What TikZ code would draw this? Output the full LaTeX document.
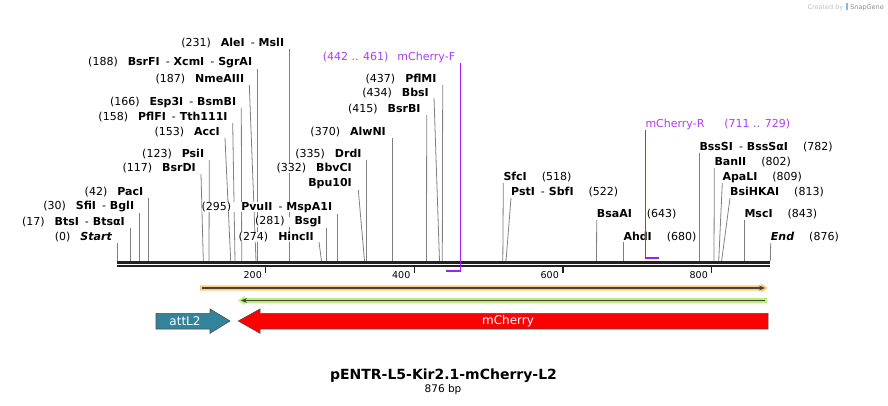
\documentclass[tikz,border=0pt]{standalone}
\usepackage{fontspec}
\setmainfont{DejaVu Sans}
\usetikzlibrary{arrows.meta,positioning,backgrounds}

\definecolor{cutgray}{RGB}{128,128,128}
\definecolor{bbone}{RGB}{34,34,34}
\definecolor{primerline}{RGB}{160,32,240}
\definecolor{primertext}{RGB}{172,64,240}
\definecolor{attteal}{RGB}{49,132,155}
\definecolor{orfred}{RGB}{255,0,0}
\definecolor{barorange}{RGB}{250,204,128}
\definecolor{bargreen}{RGB}{182,240,124}
\definecolor{bardark}{RGB}{72,66,56}
\definecolor{logoblue}{RGB}{120,190,235}

\tikzset{
  lsite/.style={anchor=east, fill=white},
  rsite/.style={anchor=west, fill=white},
  cut/.style={draw=cutgray, line width=0.8pt},
  primer/.style={draw=primerline, line width=1.6pt},
  plabel/.style={text=primertext},
}

\begin{document}
\begin{tikzpicture}[x=1pt, y=-1pt, every node/.style={font=\fontsize{11}{13}\selectfont, inner sep=0pt}]
  \useasboundingbox (0,0) rectangle (888,406);

  % backbone
  \draw[bbone, line width=2.4pt] (117,262.3) -- (770,262.3);
  \draw[bbone, line width=2.4pt] (117,266) -- (770,266);

  % ruler
  \node[anchor=east, font=\fontsize{9.5}{11}\selectfont] (t200) at (262,275) {200};
  \node[anchor=east, font=\fontsize{9.5}{11}\selectfont] (t400) at (410.5,275) {400};
  \node[anchor=east, font=\fontsize{9.5}{11}\selectfont] (t600) at (559,275) {600};
  \node[anchor=east, font=\fontsize{9.5}{11}\selectfont] (t800) at (708,275) {800};
  \draw[bbone, line width=1.5pt] (265.7,266) -- (265.7,273);
  \draw[bbone, line width=1.5pt] (414.3,266) -- (414.3,273);
  \draw[bbone, line width=1.5pt] (563,266) -- (563,273);
  \draw[bbone, line width=1.5pt] (711.7,266) -- (711.7,273);

  % sites on the backbone
  \coordinate (s0) at (117.3,261);
  \coordinate (s17) at (130,261);
  \coordinate (s30) at (139.3,261);
  \coordinate (s42) at (148.3,261);
  \coordinate (s117) at (203.3,261);
  \coordinate (s123) at (209,261);
  \coordinate (s153) at (230.7,261);
  \coordinate (s158) at (235,261);
  \coordinate (s166) at (241.7,261);
  \coordinate (s187) at (256,261);
  \coordinate (s188) at (257.3,261);
  \coordinate (s231) at (289.3,261);
  \coordinate (s274) at (321.5,261);
  \coordinate (s281) at (326.7,261);
  \coordinate (s295) at (337.3,261);
  \coordinate (s332) at (364.5,261);
  \coordinate (s335) at (366.7,261);
  \coordinate (s370) at (392.7,261);
  \coordinate (s415) at (426.5,261);
  \coordinate (s434) at (439.5,261);
  \coordinate (s437) at (442.3,261);
  \coordinate (s518) at (502.8,261);
  \coordinate (s522) at (506,261);
  \coordinate (s643) at (596.5,261);
  \coordinate (s680) at (623.3,261);
  \coordinate (s782) at (699.3,261);
  \coordinate (s802) at (714,261);
  \coordinate (s809) at (718.7,261);
  \coordinate (s813) at (721.6,261);
  \coordinate (s843) at (744.3,261);
  \coordinate (s876) at (770.3,261);

  % enzymes, left of their cut
  \node[lsite] (start) at (112.3,237) {(0)\hspace{10pt}\textbf{\textit{Start}}};
  \node[lsite] (btsI) at (125,222) {(17)\hspace{10pt}\textbf{BtsI}\hspace{6pt}-\hspace{4pt}\textbf{BtsαI}};
  \node[lsite] (sfiI) at (134.3,207) {(30)\hspace{10pt}\textbf{SfiI}\hspace{6pt}-\hspace{4pt}\textbf{BglI}};
  \node[lsite] (pacI) at (143.3,192) {(42)\hspace{10pt}\textbf{PacI}};
  \node[lsite] (bsrDI) at (196,168) {(117)\hspace{10pt}\textbf{BsrDI}};
  \node[lsite] (psiI) at (204.3,154) {(123)\hspace{10pt}\textbf{PsiI}};
  \node[lsite] (accI) at (220,132) {(153)\hspace{10pt}\textbf{AccI}};
  \node[lsite] (pflFI) at (227.7,117) {(158)\hspace{10pt}\textbf{PflFI}\hspace{6pt}-\hspace{4pt}\textbf{Tth111I}};
  \node[lsite] (esp3I) at (236.3,102) {(166)\hspace{10pt}\textbf{Esp3I}\hspace{6pt}-\hspace{4pt}\textbf{BsmBI}};
  \node[lsite] (nmeAIII) at (244.3,79) {(187)\hspace{10pt}\textbf{NmeAIII}};
  \node[lsite] (bsrFI) at (252.3,63) {(188)\hspace{10pt}\textbf{BsrFI}\hspace{6pt}-\hspace{4pt}\textbf{XcmI}\hspace{6pt}-\hspace{4pt}\textbf{SgrAI}};
  \node[lsite] (aleI) at (284.3,43) {(231)\hspace{10pt}\textbf{AleI}\hspace{6pt}-\hspace{4pt}\textbf{MslI}};
  \node[lsite] (hincII) at (314,237) {(274)\hspace{10pt}\textbf{HincII}};
  \node[lsite] (bsgI) at (321.7,222) {(281)\hspace{10pt}\textbf{BsgI}};
  \node[lsite] (pvuII) at (332.3,207) {(295)\hspace{10pt}\textbf{PvuII}\hspace{6pt}-\hspace{4pt}\textbf{MspA1I}};
  \node[lsite] (bbvCI) at (352,168) {(332)\hspace{10pt}\textbf{BbvCI}};
  \node[lsite] (bpu10I) at (352,184) {\textbf{Bpu10I}};
  \node[lsite] (drdI) at (361.7,154) {(335)\hspace{10pt}\textbf{DrdI}};
  \node[lsite] (alwNI) at (386,132) {(370)\hspace{10pt}\textbf{AlwNI}};
  \node[lsite] (bsrBI) at (420.7,109) {(415)\hspace{10pt}\textbf{BsrBI}};
  \node[lsite] (bbsI) at (429,93) {(434)\hspace{10pt}\textbf{BbsI}};
  \node[lsite] (pflMI) at (436.7,79) {(437)\hspace{10pt}\textbf{PflMI}};

  % enzymes, right of their cut
  \node[rsite] (sfcI) at (503.3,177) {\textbf{SfcI}\hspace{15pt}(518)};
  \node[rsite] (pstI) at (511,192) {\textbf{PstI}\hspace{6pt}-\hspace{4pt}\textbf{SbfI}\hspace{15pt}(522)};
  \node[rsite] (bsaAI) at (596.7,214) {\textbf{BsaAI}\hspace{15pt}(643)};
  \node[rsite] (ahdI) at (623.3,237) {\textbf{AhdI}\hspace{15pt}(680)};
  \node[rsite] (bssSI) at (699.3,147) {\textbf{BssSI}\hspace{6pt}-\hspace{4pt}\textbf{BssSαI}\hspace{15pt}(782)};
  \node[rsite] (banII) at (714.3,162) {\textbf{BanII}\hspace{15pt}(802)};
  \node[rsite] (apaLI) at (722.3,177) {\textbf{ApaLI}\hspace{15pt}(809)};
  \node[rsite] (bsiHKAI) at (730,192) {\textbf{BsiHKAI}\hspace{15pt}(813)};
  \node[rsite] (mscI) at (744.3,214) {\textbf{MscI}\hspace{15pt}(843)};
  \node[rsite] (endsite) at (770.7,237) {\textbf{\textit{End}}\hspace{15pt}(876)};

  % cut lines, behind the labels
  \begin{scope}[on background layer]
    \draw[cut] ([shift={(5,6)}]start.east) -- (s0);
    \draw[cut] ([shift={(5,6)}]btsI.east) -- (s17);
    \draw[cut] ([shift={(5,6)}]sfiI.east) -- (s30);
    \draw[cut] ([shift={(5,6)}]pacI.east) -- (s42);
    \draw[cut] ([shift={(5,6)}]bsrDI.east) -- (s117);
    \draw[cut] ([shift={(5,6)}]psiI.east) -- (s123);
    \draw[cut] ([shift={(5,6)}]accI.east) -- (s153);
    \draw[cut] ([shift={(5,6)}]pflFI.east) -- (s158);
    \draw[cut] ([shift={(5,6)}]esp3I.east) -- (s166);
    \draw[cut] ([shift={(5,6)}]nmeAIII.east) -- (s187);
    \draw[cut] ([shift={(5,6)}]bsrFI.east) -- (s188);
    \draw[cut] ([shift={(5,6)}]aleI.east) -- (s231);
    \draw[cut] ([shift={(5,5)}]hincII.east) -- (s274);
    \draw[cut] ([shift={(5,6)}]bsgI.east) -- (s281);
    \draw[cut] ([shift={(5,7)}]pvuII.east) -- (s295);
    \draw[cut] ([shift={(6.3,6)}]bpu10I.east) -- (s332);
    \draw[cut] ([shift={(5,6)}]drdI.east) -- (s335);
    \draw[cut] ([shift={(6.7,6)}]alwNI.east) -- (s370);
    \draw[cut] ([shift={(6,6)}]bsrBI.east) -- (s415);
    \draw[cut] ([shift={(5,5)}]bbsI.east) -- (s434);
    \draw[cut] ([shift={(6,6)}]pflMI.east) -- (s437);

    \draw[cut] ([yshift=-6pt]sfcI.west) -- (s518);
    \draw[cut] ([yshift=-6pt]pstI.west) -- (s522);
    \draw[cut] ([yshift=-6pt]bsaAI.west) -- (s643);
    \draw[cut] ([yshift=-5pt]ahdI.west) -- (s680);
    \draw[cut] ([yshift=-6pt]bssSI.west) -- (s782);
    \draw[cut] ([yshift=-6pt]banII.west) -- (s802);
    \draw[cut] ([yshift=-6pt]apaLI.west) -- (s809);
    \draw[cut] ([yshift=-6pt]bsiHKAI.west) -- (s813);
    \draw[cut] ([yshift=-6pt]mscI.west) -- (s843);
    \draw[cut] ([yshift=-6pt]endsite.west) -- (s876);
  \end{scope}

  % primers
  \node[lsite, plabel] (fwd) at (455.3,57) {(442 .. 461)\hspace{9pt}mCherry-F};
  \coordinate (fwd-a) at (446,270.7);
  \draw[primer] ([shift={(5,6)}]fwd.east) |- (fwd-a);
  \node[rsite, plabel] (rev) at (645.3,124) {mCherry-R\hspace{20pt}(711 .. 729)};
  \coordinate (rev-a) at (659.4,257.7);
  \draw[primer] ([yshift=-6pt]rev.west) |- (rev-a);

  % feature arrows above the map features
  \fill[barorange] (200,285.3) -- (761,285.3) -- (761,283.5) -- (768,288) -- (761,292.5) -- (761,290.7) -- (200,290.7) -- cycle;
  \draw[bardark, line width=1.5pt, -{Stealth[length=6pt,width=5pt]}] (202,288) -- (765,288);
  \fill[bargreen] (767,297.8) -- (245,297.8) -- (245,296) -- (238,300.5) -- (245,305) -- (245,303.2) -- (767,303.2) -- cycle;
  \draw[bardark, line width=1.5pt, -{Stealth[length=6pt,width=5pt]}] (765,300.5) -- (241,300.5);

  % features
  \draw[fill=attteal, draw=black!70, line width=0.6pt] (156,313.3) -- (210,313.3) -- (210,309) -- (230,321) -- (210,333.3) -- (210,329) -- (156,329) -- cycle;
  \draw[fill=orfred, draw=black!70, line width=0.6pt] (768,313.3) -- (260,313.3) -- (260,309) -- (238.3,321) -- (260,333.3) -- (260,329) -- (768,329) -- cycle;
  \node[text=white, font=\fontsize{12}{14}\selectfont] (attl2) at (185,321) {attL2};
  \node[text=white, font=\fontsize{12}{14}\selectfont] (mcherry) at (508,321) {mCherry};

  % title
  \node[font=\fontsize{14}{16}\selectfont\bfseries] (title) at (443.5,375.5) {pENTR-L5-Kir2.1-mCherry-L2};
  \node[font=\fontsize{10.5}{12}\selectfont] (size) at (443,390) {876 bp};

  % credit
  \node[anchor=east, font=\fontsize{6.5}{8}\selectfont, text=black!25] (credit) at (884,7)
    {Created by\hspace{3pt}\textcolor{logoblue}{\rule[-1pt]{2pt}{7pt}}\hspace{2pt}\textcolor{black!45}{SnapGene}};
\end{tikzpicture}
\end{document}
